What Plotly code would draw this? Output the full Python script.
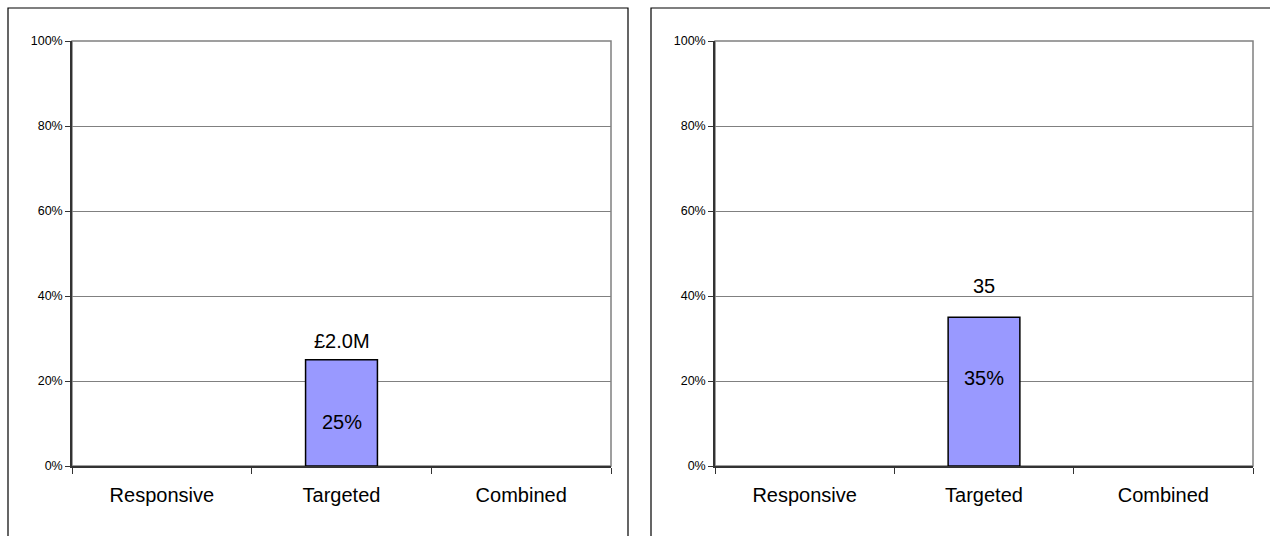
import plotly.graph_objects as go

categories = ["Responsive", "Targeted", "Combined"]
left_values = [None, 0.25, None]
right_values = [None, 0.35, None]
left_top_labels = ["", "£2.0M", ""]
right_top_labels = ["", "35", ""]
left_inner_labels = ["", "25%", ""]
right_inner_labels = ["", "35%", ""]
y_ticks = [0, 0.2, 0.4, 0.6, 0.8, 1.0]
y_tick_text = ["0%", "20%", "40%", "60%", "80%", "100%"]

W, H = 1270, 536
FONT = "Liberation Sans, Arial, sans-serif"

def px_x(p):
    return p / W

def px_y(p):
    return 1 - p / H

panels = [
    dict(vals=left_values, top=left_top_labels, inner=left_inner_labels,
         xdom=[px_x(72), px_x(611)], box=[8, 628], top_shift=6, inner_shift=-9, ax=""),
    dict(vals=right_values, top=right_top_labels, inner=right_inner_labels,
         xdom=[px_x(715), px_x(1253)], box=[651, 1290], top_shift=18, inner_shift=14, ax="2"),
]
ydom = [px_y(466), px_y(41)]

fig = go.Figure()
shapes = []
annotations = []
for i, p in enumerate(panels):
    xa = "x" + p["ax"]
    ya = "y" + p["ax"]
    fig.add_trace(go.Bar(
        x=categories, y=p["vals"], width=0.4,
        marker=dict(color="#9999FF", line=dict(color="#000000", width=1.5)),
        xaxis=xa, yaxis=ya, showlegend=False, hoverinfo="skip",
    ))
    for c, v, t, inn in zip(categories, p["vals"], p["top"], p["inner"]):
        if v is None:
            continue
        annotations.append(dict(x=c, y=v, xref=xa, yref=ya, text=t, showarrow=False,
                                yanchor="bottom", yshift=p["top_shift"],
                                font=dict(family=FONT, size=20, color="#000000")))
        annotations.append(dict(x=c, y=v / 2, xref=xa, yref=ya, text=inn, showarrow=False,
                                yanchor="middle", yshift=p["inner_shift"],
                                font=dict(family=FONT, size=20, color="#000000")))
    # gray plot-area frame
    shapes.append(dict(type="rect", xref=xa + " domain", yref=ya + " domain",
                       x0=0, x1=1, y0=0, y1=1, line=dict(color="#808080", width=1.5),
                       layer="below"))
    # outer chart border
    shapes.append(dict(type="rect", xref="paper", yref="paper",
                       x0=px_x(p["box"][0]), x1=px_x(p["box"][1]),
                       y0=px_y(560), y1=px_y(8),
                       line=dict(color="#000000", width=1.2)))

    xkey = "xaxis" + p["ax"]
    ykey = "yaxis" + p["ax"]
    fig.update_layout(**{
        xkey: dict(domain=p["xdom"], anchor=ya, type="category",
                   categoryorder="array", categoryarray=categories,
                   range=[-0.5, 2.5], tickson="boundaries", ticks="outside",
                   ticklen=6, tickcolor="#333333", tickwidth=1.2,
                   showline=True, linecolor="#333333", linewidth=2,
                   showgrid=False, zeroline=False, ticklabelstandoff=10,
                   automargin=False,
                   tickfont=dict(family=FONT, size=20, color="#000000")),
        ykey: dict(domain=ydom, anchor=xa, range=[0, 1], tickvals=y_ticks,
                   ticktext=y_tick_text, ticks="outside", ticklen=5,
                   tickcolor="#333333", tickwidth=1.2,
                   showline=True, linecolor="#333333", linewidth=1.5,
                   showgrid=True, gridcolor="#808080", gridwidth=1,
                   zeroline=False, automargin=False,
                   tickfont=dict(family=FONT, size=12.5, color="#000000")),
    })

fig.update_layout(
    template="none",
    width=W, height=H, margin=dict(l=0, r=0, t=0, b=0, pad=0, autoexpand=False),
    paper_bgcolor="#FFFFFF", plot_bgcolor="#FFFFFF",
    shapes=shapes, annotations=annotations, bargap=0.6,
)

fig.write_html("out.html", config={"displayModeBar": False},
               post_script="document.body.style.margin='0';document.body.style.overflow='hidden';")
